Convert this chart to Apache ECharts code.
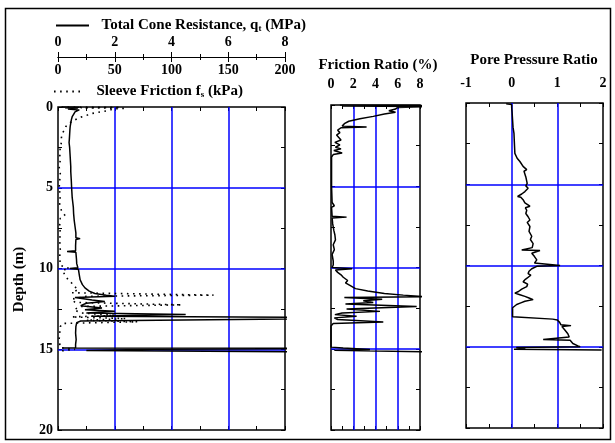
<!DOCTYPE html>
<html><head><meta charset="utf-8">
<script src="https://cdn.jsdelivr.net/npm/echarts@6/dist/echarts.min.js"></script>
<style>html,body{margin:0;padding:0;background:#fff}#c{width:615px;height:443px}</style>
</head><body><div id="c"></div>
<script>
// ---- data (depth in m, value) ----
const depthGrid = [5, 10, 15];
const qtGrid = [2, 4, 6];
const frGrid = [2, 4, 6];
const bqGrid = [0, 1];

// Total cone resistance q_t (MPa)
const qtData = [[0.0,0.15],[0.02,0.75],[0.05,0.25],[0.08,0.7],[0.12,0.35],[0.18,0.75],[0.3,0.6],[0.45,0.55],[0.6,0.5],[0.8,0.47],[1.0,0.45],[1.2,0.43],[1.4,0.42],[1.7,0.41],[2.0,0.4],[2.2,0.39],[2.5,0.41],[2.8,0.42],[3.1,0.43],[3.4,0.44],[3.7,0.45],[4.0,0.45],[4.3,0.46],[4.6,0.47],[5.0,0.48],[5.3,0.49],[5.6,0.5],[5.9,0.52],[6.2,0.54],[6.6,0.55],[7.0,0.57],[7.4,0.6],[7.8,0.63],[8.1,0.63],[8.15,0.78],[8.2,0.63],[8.6,0.62],[8.9,0.62],[8.95,0.32],[9.0,0.63],[9.4,0.65],[9.7,0.66],[9.95,0.7],[10.0,0.42],[10.05,0.72],[10.4,0.75],[10.7,0.78],[11.0,0.86],[11.2,0.95],[11.4,1.1],[11.55,1.3],[11.65,1.7],[11.72,2.0],[11.8,0.6],[11.95,1.2],[12.05,1.65],[12.15,1.0],[12.3,0.8],[12.45,1.55],[12.55,0.95],[12.65,2.0],[12.75,1.0],[12.85,4.5],[12.95,1.2],[13.05,12],[13.15,12],[13.25,0.8],[13.35,0.66],[13.6,0.63],[14.0,0.62],[14.4,0.64],[14.7,0.62],[14.9,0.62],[14.93,0.15],[14.95,12],[15.0,3.4],[15.08,1.0],[15.2,12]];

// Sleeve friction f_s (kPa)
const fsData = [[0.0,3],[0.02,55],[0.05,20],[0.08,60],[0.12,48],[0.2,46],[0.3,38],[0.4,30],[0.5,26],[0.65,19],[0.8,15],[1.0,10],[1.2,7],[1.4,6],[1.6,4],[1.9,3],[2.2,3],[2.5,2],[2.9,1.5],[3.3,2],[3.7,1],[4.1,2],[4.6,1.5],[5.0,1],[5.5,2],[6.0,1.5],[6.4,3],[6.7,6],[6.9,2],[7.3,1.5],[7.8,2],[8.3,1.5],[8.8,2],[9.3,1.5],[9.8,2],[10.0,10],[10.1,4],[10.4,6],[10.7,9],[10.9,12],[11.1,14],[11.3,18],[11.5,12],[11.65,137],[11.72,25],[11.9,12],[12.1,15],[12.25,109],[12.35,20],[12.55,14],[12.75,20],[12.9,50],[13.0,12],[13.1,60],[13.2,25],[13.3,70],[13.4,4],[13.6,2],[14.0,1.5],[14.4,1],[14.9,2],[15.0,15],[15.1,3]];

// Friction ratio (%)
const frData = [[0.0,0.8],[0.03,8.5],[0.06,1.0],[0.1,8.5],[0.15,6.0],[0.25,5.8],[0.35,5.2],[0.45,5.8],[0.55,4.8],[0.7,3.8],[0.85,2.6],[1.0,1.6],[1.15,1.2],[1.3,1.0],[1.35,3.2],[1.4,0.9],[1.55,0.6],[1.7,0.8],[1.85,0.5],[2.0,0.7],[2.15,0.9],[2.3,0.35],[2.45,0.8],[2.6,0.4],[2.7,0.9],[2.8,0.25],[2.95,1.0],[3.05,0.2],[3.2,0.05],[4.0,0.05],[5.0,0.05],[6.0,0.1],[6.2,0.3],[6.3,0.05],[6.85,0.1],[6.9,1.4],[6.95,0.1],[7.3,0.15],[7.7,0.25],[8.0,0.35],[8.3,0.4],[8.6,0.2],[8.9,0.3],[9.2,0.1],[9.6,0.2],[9.7,0.35],[9.85,0.2],[10.0,0.1],[10.08,1.9],[10.15,0.4],[10.3,0.6],[10.45,0.9],[10.6,1.1],[10.8,1.5],[10.95,1.3],[11.1,1.7],[11.3,2.2],[11.45,3.3],[11.6,4.8],[11.7,6.5],[11.8,8.5],[11.85,1.2],[11.95,4.6],[12.05,2.9],[12.15,3.8],[12.25,1.3],[12.4,7.7],[12.55,1.4],[12.7,4.4],[12.8,1.0],[12.9,0.35],[13.0,2.3],[13.1,0.3],[13.2,0.6],[13.35,4.7],[13.45,0.2],[13.6,0.0],[14.9,0.0],[14.95,1.1],[15.05,3.5],[15.1,0.3],[15.2,9]];

// Pore pressure ratio
const bqData = [[0.05,-0.12],[0.1,0.0],[0.3,0.0],[0.6,0.01],[1.05,0.02],[1.5,0.03],[1.85,0.05],[2.5,0.06],[3.1,0.07],[3.4,0.12],[3.6,0.18],[3.9,0.25],[4.1,0.33],[4.2,0.27],[4.55,0.31],[4.95,0.34],[5.1,0.31],[5.25,0.36],[5.45,0.29],[5.6,0.22],[5.75,0.13],[5.8,0.2],[5.95,0.25],[6.15,0.29],[6.35,0.4],[6.45,0.3],[6.6,0.33],[6.8,0.31],[7.0,0.36],[7.2,0.4],[7.35,0.34],[7.6,0.4],[7.9,0.38],[8.2,0.44],[8.4,0.41],[8.65,0.47],[8.9,0.45],[9.05,0.22],[9.08,0.62],[9.25,0.44],[9.45,0.5],[9.65,0.55],[9.85,0.5],[10.0,1.06],[10.05,0.55],[10.2,0.44],[10.35,0.38],[10.5,0.36],[10.6,0.42],[10.7,0.4],[10.85,0.3],[11.0,0.25],[11.15,0.35],[11.3,0.33],[11.45,0.22],[11.6,0.15],[11.7,0.07],[11.8,0.18],[11.9,0.29],[12.0,0.38],[12.1,0.47],[12.2,0.29],[12.3,0.2],[12.4,0.11],[12.6,0.02],[13.15,0.02],[13.3,0.9],[13.35,1.0],[13.5,1.05],[13.65,1.08],[13.7,1.3],[13.75,1.1],[13.95,1.16],[14.2,1.23],[14.4,1.26],[14.55,0.69],[14.6,1.28],[14.8,1.34],[14.95,1.45],[15.0,1.5],[15.05,0.1],[15.1,0.3],[15.15,0.05],[15.2,1.97]];

// ---- chart ----
const F = 'Liberation Serif';
const lbl = {fontFamily: F, fontWeight: 'bold', fontSize: 14, color: '#000'};
const big = {fontFamily: F, fontWeight: 'bold', fontSize: 15, color: '#000'};
const blk = {color: '#000', width: 1};
const BLUE = '#0000ff';

function frameX(grid, pos, min, max, interval, extra) {
  return Object.assign({
    type: 'value', gridIndex: grid, position: pos, min, max, interval,
    axisLine: {show: false, onZero: false},
    axisTick: {show: true, inside: true, length: 4, lineStyle: blk},
    minorTick: {show: true, splitNumber: 2, length: 4, lineStyle: blk},
    axisLabel: {show: false},
    splitLine: {show: false}
  }, extra || {});
}
function frameY(grid, pos, extra) {
  return Object.assign({
    type: 'value', gridIndex: grid, position: pos, inverse: true, min: 0, max: 20, interval: 5,
    axisLine: {show: false, onZero: false},
    axisTick: {show: true, inside: true, length: 4, lineStyle: blk},
    minorTick: {show: true, splitNumber: 2, length: 4, lineStyle: blk},
    axisLabel: {show: false},
    splitLine: {show: false}
  }, extra || {});
}
function gridLines(xs) {
  return {
    silent: true, symbol: ['none', 'none'], z: 1, animation: false,
    label: {show: false},
    lineStyle: {color: BLUE, width: 1.5, type: 'solid', opacity: 1},
    emphasis: {disabled: true},
    data: xs.map(v => ({xAxis: v})).concat(depthGrid.map(v => ({yAxis: v})))
  };
}
const gridBox = {show: true, borderColor: '#000', borderWidth: 1.5, backgroundColor: 'transparent'};
const subRich = {a: big, s: {fontFamily: F, fontWeight: 'bold', fontSize: 9, color: '#000', verticalAlign: 'bottom'}};

const option = {
  animation: false,
  backgroundColor: '#fff',
  title: [
    {text: 'Friction Ratio (%)', left: 378, top: 58, textAlign: 'center', padding: 0, textStyle: big},
    {text: 'Pore Pressure Ratio', left: 534, top: 53, textAlign: 'center', padding: 0, textStyle: big}
  ],
  legend: [
    {data: ['Total Cone Resistance, qt (MPa)'], left: 55, top: 18, padding: 0, itemWidth: 33, itemHeight: 14,
     itemStyle: {opacity: 0},
     formatter: () => '  {a|Total Cone Resistance, q}{s|t}{a| (MPa)}',
     textStyle: Object.assign({}, big, {rich: subRich})},
    {data: ['Sleeve Friction fs (kPa)'], left: 53, top: 84, padding: 0, itemWidth: 30, itemHeight: 14,
     itemStyle: {opacity: 0},
     formatter: () => '  {a|Sleeve Friction f}{s|s}{a| (kPa)}',
     textStyle: Object.assign({}, big, {rich: subRich})}
  ],
  graphic: [{type: 'rect', shape: {x: 5.5, y: 8.5, width: 605, height: 431}, style: {fill: 'none', stroke: '#000', lineWidth: 1.5}, silent: true, z: -1}],
  grid: [
    Object.assign({left: 58, top: 107, width: 227, height: 323}, gridBox),
    Object.assign({left: 331, top: 105, width: 89, height: 325}, gridBox),
    Object.assign({left: 466, top: 103, width: 137, height: 325}, gridBox)
  ],
  xAxis: [
    // 0: q_t label axis (labels above line)
    {type: 'value', gridIndex: 0, position: 'top', offset: 50, min: 0, max: 8, interval: 2,
     axisLine: {show: true, onZero: false, lineStyle: {color: '#000', width: 1.2}},
     axisTick: {show: true, inside: false, length: 5, lineStyle: blk},
     minorTick: {show: true, splitNumber: 2, length: 3, lineStyle: blk},
     axisLabel: Object.assign({margin: 8, showMinLabel: true, showMaxLabel: true}, lbl),
     splitLine: {show: false}},
    // 1: f_s label axis (labels below line)
    {type: 'value', gridIndex: 0, position: 'top', offset: 50, min: 0, max: 200, interval: 50,
     axisLine: {show: true, onZero: false, lineStyle: {color: '#000', width: 1.2}},
     axisTick: {show: true, inside: true, length: 5, lineStyle: blk},
     minorTick: {show: true, splitNumber: 2, length: 3, lineStyle: blk},
     axisLabel: Object.assign({inside: true, margin: 6, showMinLabel: true, showMaxLabel: true}, lbl),
     splitLine: {show: false}},
    frameX(0, 'top', 0, 200, 50),
    frameX(0, 'bottom', 0, 200, 50),
    frameX(1, 'top', 0, 8, 2, {axisLabel: Object.assign({show: true, margin: 14, showMinLabel: true, showMaxLabel: true}, lbl)}),
    frameX(1, 'bottom', 0, 8, 2),
    frameX(2, 'top', -1, 2, 1, {axisLabel: Object.assign({show: true, margin: 13, showMinLabel: true, showMaxLabel: true}, lbl)}),
    frameX(2, 'bottom', -1, 2, 1)
  ],
  yAxis: [
    frameY(0, 'left', {axisLabel: Object.assign({show: true, margin: 5, showMinLabel: true, showMaxLabel: true}, lbl),
      name: 'Depth (m)', nameLocation: 'middle', nameGap: 31, nameRotate: 90,
      nameTextStyle: Object.assign({padding: [0, 22, 0, 0]}, big)}),
    frameY(0, 'right'),
    frameY(1, 'left'),
    frameY(1, 'right'),
    frameY(2, 'left'),
    frameY(2, 'right')
  ],
  series: [
    {name: 'Total Cone Resistance, qt (MPa)', type: 'line', xAxisIndex: 0, yAxisIndex: 0, symbol: 'none', z: 3,
     lineStyle: {color: '#000', width: 1.5}, itemStyle: {color: '#000'},
     data: qtData.map(d => [d[1], d[0]]), markLine: gridLines(qtGrid)},
    {name: 'Sleeve Friction fs (kPa)', type: 'line', xAxisIndex: 1, yAxisIndex: 0, symbol: 'none', z: 3,
     lineStyle: {color: '#000', width: 1.6, type: [1.6, 4.5]}, itemStyle: {color: '#000'},
     data: fsData.map(d => [d[1], d[0]])},
    {name: 'Friction Ratio', type: 'line', xAxisIndex: 4, yAxisIndex: 2, symbol: 'none', z: 3,
     lineStyle: {color: '#000', width: 1.5},
     data: frData.map(d => [d[1], d[0]]), markLine: gridLines(frGrid)},
    {name: 'Pore Pressure Ratio', type: 'line', xAxisIndex: 6, yAxisIndex: 4, symbol: 'none', z: 3,
     lineStyle: {color: '#000', width: 1.5},
     data: bqData.map(d => [d[1], d[0]]), markLine: gridLines(bqGrid)}
  ]
};
const chart = echarts.init(document.getElementById('c'), null, {renderer: 'canvas'});
chart.setOption(option);
</script></body></html>
